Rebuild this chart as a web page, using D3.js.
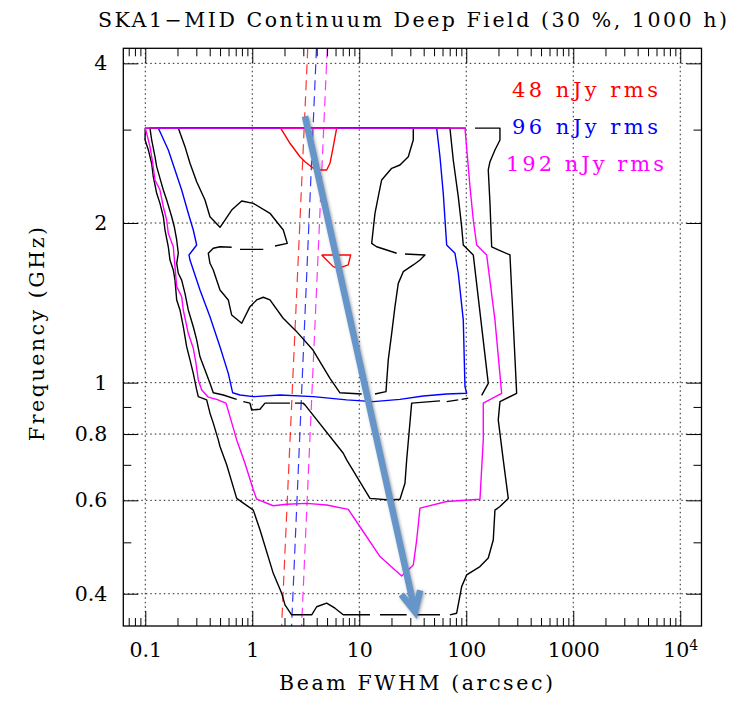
<!DOCTYPE html>
<html>
<head>
<meta charset="utf-8">
<script src="https://cdn.jsdelivr.net/npm/d3@7"></script>
<style>
  body { margin: 0; background: #fff; }
  svg { display: block; }
</style>
</head>
<body>
<svg id="chart" width="731" height="701"></svg>
<script>
// ---- data: [beam FWHM (arcsec), frequency (GHz)], null = gap in the contour ----
const blackOuter = [
  [99.4, 3.02], [0.1, 3.02], [0.0994, 2.87], [0.1067, 2.75], [0.1147, 2.59], [0.1188, 2.445],
  [0.1278, 2.275], [0.1372, 2.178], [0.1474, 2.055], [0.1528, 1.94], [0.1641, 1.804],
  [0.1701, 1.703], [0.1827, 1.631], [0.1895, 1.561], [0.1966, 1.432], [0.211, 1.371],
  [0.2265, 1.275], [0.2436, 1.169], [0.2617, 1.104], [0.2809, 1.041], [0.3022, 0.969],
  [0.3128, 0.941], [0.3748, 0.928], [0.4024, 0.876], [0.432, 0.839], [0.4811, 0.78],
  [0.4991, 0.758], [0.5763, 0.70], [0.7147, 0.605], [1.022, 0.575], [1.18, 0.528],
  [1.571, 0.437], [1.883, 0.401], [2.021, 0.381], [2.334, 0.365], [3.591, 0.365],
  [3.999, 0.378], [4.958, 0.384], [5.929, 0.3756], [7.087, 0.365], [12.59, 0.365], null,
  [15.62, 0.365], [27.73, 0.365], null, [33.16, 0.365], [56.79, 0.365], null,
  [70.4, 0.365], [81.34, 0.3675], [90.57, 0.4125], [100.9, 0.434], [134.3, 0.45],
  [160.6, 0.467], [178.8, 0.505], [185.4, 0.575], [206.5, 0.584], [246.9, 0.605],
  [221.7, 0.715], [199.1, 0.851], [206.5, 0.921], [295.8, 0.955], [256.1, 1.741],
  [199.1, 1.779], [172.8, 1.804], [166.6, 2.178], [160.6, 2.518], [166.6, 2.61],
  [185.4, 2.746], [206.5, 2.868], [206.5, 3.02], [120.6, 3.02]
];

const blackMiddle = [
  [70.4, 3.02], [0.1106, 3.02], [0.1147, 2.868], [0.1232, 2.667], [0.1278, 2.554],
  [0.1372, 2.428], [0.1474, 2.308], [0.1585, 2.21], [0.1765, 2.055], [0.1866, 1.968],
  [0.1966, 1.858], [0.2035, 1.754], [0.1966, 1.679], [0.2035, 1.608], [0.2188, 1.561],
  [0.235, 1.474], [0.2522, 1.371], [0.2809, 1.275], [0.3022, 1.204], [0.3245, 1.119],
  [0.3614, 1.057], [0.4024, 0.997], [0.432, 0.957], [0.5358, 0.948], [0.7147, 0.93], null,
  [0.8241, 0.921], [0.9517, 0.915], [0.987, 0.888], [1.18, 0.891], [1.314, 0.915],
  [2.251, 0.915], null, [2.507, 0.915], [2.978, 0.915], [3.108, 0.908], [7.087, 0.736],
  [7.625, 0.715], [12.59, 0.605], [19.36, 0.601], [24.01, 0.603], [26.74, 0.646],
  [27.73, 0.715], [30.88, 0.915], [56.79, 0.924], null, [65.6, 0.921], [84.2, 0.928], null,
  [90.57, 0.93], [104.4, 0.935], null, [139.3, 0.946], [160.6, 0.997], [116.3, 1.741],
  [93.76, 1.818], [90.57, 1.968], [84.2, 2.242], [75.59, 2.629], [70.4, 3.02]
];

const blackInner = [
  [0.2035, 3.02], [0.235, 2.786], [0.2617, 2.592], [0.3022, 2.393], [0.3614, 2.21],
  [0.4024, 2.055], [0.4991, 1.963], [0.5556, 2.026], [0.6419, 2.116], [0.7961, 2.2],
  [1.022, 2.178], [1.463, 2.086], [1.949, 1.94], [2.124, 1.831], [1.63, 1.81], null,
  [1.267, 1.784], [0.7674, 1.784], null, [0.6419, 1.80], [0.4991, 1.804], [0.432, 1.792],
  [0.388, 1.754], [0.4024, 1.679], [0.432, 1.631], [0.4991, 1.495], [0.5967, 1.432],
  [0.6419, 1.341], [0.7961, 1.294], [0.9517, 1.391], [1.099, 1.432], [1.267, 1.449],
  [1.463, 1.432], [1.936, 1.324], [2.561, 1.252], [3.693, 1.152], [5.323, 1.019],
  [6.601, 0.957], [10.53, 0.952], null, [14.02, 0.952], [17.77, 0.962], [18.66, 1.104],
  [20.09, 1.239], [21.56, 1.391], [23.15, 1.539], [25.78, 1.619], [31.97, 1.667],
  [36.93, 1.703], [41.11, 1.741], [26.74, 1.748], null, [22.37, 1.754], [14.54, 1.804],
  [13.06, 1.831], [14.02, 2.086], [15.05, 2.242], [16.19, 2.411], [20.09, 2.536],
  [24.01, 2.573], [28.71, 2.667], [31.97, 2.868], [31.97, 3.02], [0.2035, 3.02]
];

const blue96 = [
  [52.9, 3.02], [0.1323, 3.02], [0.1641, 2.746], [0.1895, 2.518], [0.2188, 2.308],
  [0.2522, 2.086], [0.2809, 1.94], [0.3022, 1.818], [0.2561, 1.741], [0.2617, 1.703],
  [0.3245, 1.495], [0.4024, 1.331], [0.4991, 1.169], [0.5967, 1.041], [0.6558, 0.957],
  [0.7674, 0.948], [1.022, 0.941], [1.815, 0.948], [3.717, 0.941], [7.625, 0.928],
  [13.52, 0.921], [24.01, 0.93], [39.64, 0.944], [65.6, 0.952], [100.9, 0.955],
  [97.25, 0.983], [93.76, 1.313], [84.2, 1.608], [78.41, 1.754], [65.6, 1.818],
  [60.96, 2.275], [56.79, 2.667], [52.9, 3.02]
];

const red48Top = [
  [1.842, 3.02], [2.251, 2.827], [2.791, 2.667], [3.108, 2.61], [3.717, 2.536],
  [4.293, 2.518], [4.958, 2.518], [5.323, 2.592], [5.715, 2.786], [6.148, 3.02], [1.842, 3.02]
];

const red48Island = [
  [4.453, 1.741], [5.715, 1.655], [6.365, 1.643], [7.893, 1.667], [8.311, 1.741], [4.453, 1.741]
];

const magenta192 = [
  [97.25, 3.02], [0.1, 3.02], [0.103, 2.953], [0.1106, 2.786], [0.1162, 2.629],
  [0.1232, 2.411], [0.1372, 2.308], [0.1474, 2.146], [0.1585, 2.026], [0.1641, 1.912],
  [0.1827, 1.804], [0.1895, 1.655], [0.1966, 1.517], [0.2188, 1.453], [0.2265, 1.371],
  [0.2522, 1.239], [0.2809, 1.161], [0.2977, 1.088], [0.3128, 1.012], [0.3366, 0.969],
  [0.388, 0.939], [0.4648, 0.93], [0.5677, 0.915], [0.619, 0.863], [0.7147, 0.78],
  [0.8547, 0.705], [1.022, 0.628], [1.099, 0.603], [1.571, 0.586], [2.097, 0.59],
  [3.224, 0.592], [4.958, 0.588], [7.893, 0.577], [10.15, 0.535], [15.62, 0.47],
  [24.91, 0.432], [31.97, 0.453], [34.4, 0.505], [36.93, 0.58], [65.6, 0.597],
  [134.3, 0.603], [144.2, 0.78], [144.2, 0.915], [214.2, 0.955], [185.4, 1.313],
  [155.1, 1.741], [125.1, 1.818], [116.3, 2.026], [108.3, 2.342], [97.25, 3.02]
];

// dashed resolution lines (top end, bottom end)
const redDash = [[3.3, 4.27], [1.88, 0.3477]];
const blueDash = [[3.98, 4.27], [2.33, 0.3477]];
const magentaDash = [[5.02, 4.27], [2.89, 0.3477]];

// annotation arrow
const arrowFrom = [3.11, 3.18];
const arrowTo = [33.2, 0.370];

const legendLabels = ["48 nJy rms", "96 nJy rms", "192 nJy rms"];
const legendColors = ["#ff0000", "#0000ff", "#ff00ff"];

const xMajor = [0.1, 1, 10, 100, 1000, 10000];
const yMajor = [0.4, 0.6, 0.8, 1, 2, 4];
const yMinor = [0.5, 0.7, 0.9, 3];

// ---- layout ----
const L = 123.3, R = 701.5, T = 48.3, B = 626;
const FONT = "DejaVu Serif, serif";

const svg = d3.select("#chart");

const x = d3.scaleLog().domain([0.0623, 15800]).range([L, R]);
const y = d3.scaleLog().domain([0.3477, 4.27]).range([B, T]);
const xMinor = x.ticks().filter(d => !xMajor.some(m => Math.abs(m - d) / m < 1e-6));

const defs = svg.append("defs");
defs.append("clipPath").attr("id", "plot-clip")
  .append("rect").attr("x", L).attr("y", T).attr("width", R - L).attr("height", B - T);

const shadow = defs.append("filter").attr("id", "arrow-shadow")
  .attr("x", "-20%").attr("y", "-20%").attr("width", "140%").attr("height", "140%");
shadow.append("feDropShadow").attr("dx", 1.2).attr("dy", 1.2)
  .attr("stdDeviation", 1.4).attr("flood-color", "#555").attr("flood-opacity", 0.55);

// grid
const grid = svg.append("g").attr("stroke", "#222").attr("stroke-width", 1)
  .attr("stroke-dasharray", "1.5,3");
grid.selectAll("line.gx").data(xMajor).join("line").attr("class", "gx")
  .attr("x1", d => x(d)).attr("x2", d => x(d)).attr("y1", T).attr("y2", B);
grid.selectAll("line.gy").data(yMajor).join("line").attr("class", "gy")
  .attr("x1", L).attr("x2", R).attr("y1", d => y(d)).attr("y2", d => y(d));

const plot = svg.append("g").attr("clip-path", "url(#plot-clip)");
const line = d3.line().defined(d => d !== null).x(d => x(d[0])).y(d => y(d[1]));

// dashed lines
[[redDash, "#ff0000"], [blueDash, "#0000ff"], [magentaDash, "#ff00ff"]].forEach(([d, c]) => {
  plot.append("path").datum(d).attr("d", line)
    .attr("fill", "none").attr("stroke", c).attr("stroke-width", 1.2)
    .attr("stroke-opacity", 0.8).attr("stroke-dasharray", "10,6");
});

// contours
const contours = [
  [blackOuter, "#000"], [blackMiddle, "#000"], [blackInner, "#000"],
  [blue96, "#0000ff"], [red48Top, "#ff0000"], [red48Island, "#ff0000"], [magenta192, "#ff00ff"]
];
contours.forEach(([d, c]) => {
  plot.append("path").datum(d).attr("d", line)
    .attr("fill", "none").attr("stroke", c).attr("stroke-width", 1.4)
    .attr("stroke-linejoin", "round");
});

// axes
function styleAxis(g) {
  g.select(".domain").remove();
  g.selectAll("line").attr("stroke", "#000").attr("stroke-width", 1);
  g.selectAll("text").attr("font-family", FONT).attr("font-size", 20.5).attr("fill", "#000");
}
const noLabel = () => "";

svg.append("g").attr("transform", `translate(0,${B})`)
  .call(d3.axisBottom(x).tickValues(xMajor).tickSize(-15).tickSizeOuter(0).tickPadding(16)
    .tickFormat(d => String(d)))
  .call(styleAxis)
  .call(g => g.selectAll("text").each(function (d) {
    if (d === 10000) {
      const t = d3.select(this).text("");
      t.append("tspan").text("10");
      t.append("tspan").attr("dy", "-0.45em").attr("font-size", 14).text("4");
    }
  }));
svg.append("g").attr("transform", `translate(0,${B})`)
  .call(d3.axisBottom(x).tickValues(xMinor).tickSize(-8).tickSizeOuter(0).tickFormat(noLabel))
  .call(styleAxis);
svg.append("g").attr("transform", `translate(0,${T})`)
  .call(d3.axisTop(x).tickValues(xMajor).tickSize(-15).tickSizeOuter(0).tickFormat(noLabel))
  .call(styleAxis);
svg.append("g").attr("transform", `translate(0,${T})`)
  .call(d3.axisTop(x).tickValues(xMinor).tickSize(-8).tickSizeOuter(0).tickFormat(noLabel))
  .call(styleAxis);

svg.append("g").attr("transform", `translate(${L},0)`)
  .call(d3.axisLeft(y).tickValues(yMajor).tickSize(-15).tickSizeOuter(0).tickPadding(16)
    .tickFormat(d => String(d)))
  .call(styleAxis);
svg.append("g").attr("transform", `translate(${L},0)`)
  .call(d3.axisLeft(y).tickValues(yMinor).tickSize(-8).tickSizeOuter(0).tickFormat(noLabel))
  .call(styleAxis);
svg.append("g").attr("transform", `translate(${R},0)`)
  .call(d3.axisRight(y).tickValues(yMajor).tickSize(-15).tickSizeOuter(0).tickFormat(noLabel))
  .call(styleAxis);
svg.append("g").attr("transform", `translate(${R},0)`)
  .call(d3.axisRight(y).tickValues(yMinor).tickSize(-8).tickSizeOuter(0).tickFormat(noLabel))
  .call(styleAxis);

// frame
svg.append("rect").attr("x", L).attr("y", T).attr("width", R - L).attr("height", B - T)
  .attr("fill", "none").attr("stroke", "#000").attr("stroke-width", 1.3);

// titles
svg.append("text").attr("x", 412.5).attr("y", 27).attr("text-anchor", "middle")
  .attr("font-family", FONT).attr("font-size", 20.5)
  .attr("textLength", 629).attr("lengthAdjust", "spacing")
  .text("SKA1\u2212MID Continuum Deep Field (30 %, 1000 h)");

svg.append("text").attr("x", 416).attr("y", 690).attr("text-anchor", "middle")
  .attr("font-family", FONT).attr("font-size", 20.5)
  .attr("textLength", 274).attr("lengthAdjust", "spacing")
  .text("Beam FWHM (arcsec)");

svg.append("text").attr("transform", "translate(44,334) rotate(-90)").attr("text-anchor", "middle")
  .attr("font-family", FONT).attr("font-size", 20.5)
  .attr("textLength", 214).attr("lengthAdjust", "spacing")
  .text("Frequency (GHz)");

// legend
const legendWidths = [146, 146, 158];
svg.append("g").selectAll("text").data(legendLabels).join("text")
  .attr("x", 585).attr("y", (d, i) => 97 + i * 37).attr("text-anchor", "middle")
  .attr("font-family", FONT).attr("font-size", 21)
  .attr("fill", (d, i) => legendColors[i])
  .attr("textLength", (d, i) => legendWidths[i]).attr("lengthAdjust", "spacing")
  .text(d => d);

// arrow
const p0 = [x(arrowFrom[0]), y(arrowFrom[1])];
const p1 = [x(arrowTo[0]), y(arrowTo[1])];
const ang = Math.atan2(p1[1] - p0[1], p1[0] - p0[0]);
const headLen = 22, headAng = 26 * Math.PI / 180;
const armL = [p1[0] - headLen * Math.cos(ang - headAng), p1[1] - headLen * Math.sin(ang - headAng)];
const armR = [p1[0] - headLen * Math.cos(ang + headAng), p1[1] - headLen * Math.sin(ang + headAng)];
const arrow = svg.append("g").attr("filter", "url(#arrow-shadow)")
  .attr("stroke", "#6595c9").attr("stroke-width", 6.5).attr("fill", "none");
arrow.append("path").attr("d", d3.line()([p0, [p1[0] - 3 * Math.cos(ang), p1[1] - 3 * Math.sin(ang)]]));
arrow.append("path").attr("d", d3.line()([armL, p1, armR])).attr("stroke-linejoin", "miter");
</script>
</body>
</html>
